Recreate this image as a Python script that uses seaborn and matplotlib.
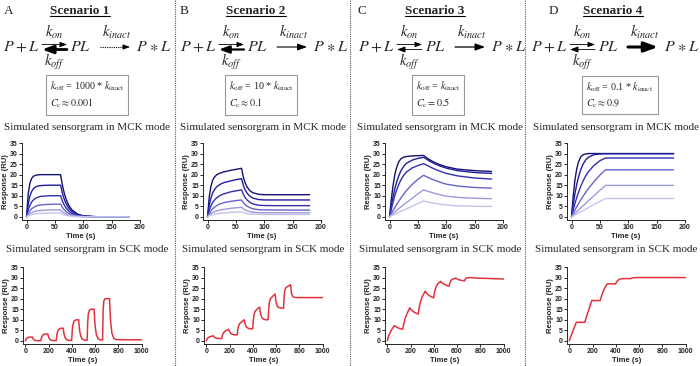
import matplotlib
matplotlib.use("Agg")
import matplotlib.pyplot as plt
import seaborn as sns
import pandas as pd

# ---- data ----
scenarios = ["Scenario 1", "Scenario 2", "Scenario 3", "Scenario 4"]
letters = ["A", "B", "C", "D"]
box_lines = [
    ["$k_{\\rm off}$ = 1000 * $k_{\\rm inact}$", "$C_{\\rm c} \\approx 0.001$"],
    ["$k_{\\rm off}$ = 10 * $k_{\\rm inact}$", "$C_{\\rm c} \\approx 0.1$"],
    ["$k_{\\rm off}$ = $k_{\\rm inact}$", "$C_{\\rm c} = 0.5$"],
    ["$k_{\\rm off}$ = 0.1 * $k_{\\rm inact}$", "$C_{\\rm c} \\approx 0.9$"],
]

mck_time = [0, 3, 6, 9, 12, 16, 20, 25, 30, 40, 50, 60, 63, 66, 70, 75, 80, 90, 100, 120, 150, 180]

# six concentrations, highest first
mck_s1 = [
    [0, 11.1, 16.0, 18.2, 19.2, 19.7, 19.9, 20.0, 20.0, 20.0, 20.0, 20.0, 15.3, 11.7, 8.1, 5.2, 3.3, 1.3, 0.5, 0.1, 0.0, 0.0],
    [0, 6.3, 9.9, 12.0, 13.3, 14.2, 14.6, 14.8, 14.9, 15.0, 15.0, 15.0, 11.4, 8.7, 6.1, 3.9, 2.5, 1.0, 0.4, 0.07, 0.0, 0.0],
    [0, 3.3, 5.6, 7.0, 8.0, 8.8, 9.3, 9.7, 9.8, 10.0, 10.0, 10.0, 7.6, 5.8, 4.1, 2.6, 1.65, 0.67, 0.27, 0.05, 0.0, 0.0],
    [0, 1.7, 2.9, 3.8, 4.4, 5.0, 5.4, 5.6, 5.8, 5.9, 6.0, 6.0, 4.6, 3.5, 2.4, 1.55, 1.0, 0.4, 0.16, 0.03, 0.0, 0.0],
    [0, 0.86, 1.5, 2.0, 2.3, 2.6, 2.9, 3.0, 3.1, 3.25, 3.3, 3.3, 2.5, 1.9, 1.3, 0.85, 0.54, 0.22, 0.09, 0.02, 0.0, 0.0],
    [0, 0.45, 0.79, 1.04, 1.23, 1.41, 1.54, 1.64, 1.7, 1.76, 1.79, 1.8, 1.37, 1.05, 0.73, 0.47, 0.3, 0.12, 0.05, 0.01, 0.0, 0.0],
]
mck_s2 = [
    [0, 9.5, 14.5, 17.3, 18.8, 19.9, 20.5, 21.0, 21.4, 22.0, 22.5, 23.0, 19.0, 16.3, 14.0, 12.3, 11.4, 10.7, 10.5, 10.5, 10.5, 10.5],
    [0, 5.5, 9.0, 11.3, 12.8, 14.2, 15.0, 15.8, 16.3, 17.0, 17.6, 18.1, 15.0, 12.9, 11.1, 9.7, 8.9, 8.2, 8.0, 8.0, 8.0, 8.0],
    [0, 3.0, 5.2, 6.8, 7.9, 9.0, 9.8, 10.5, 11.0, 11.8, 12.3, 12.8, 10.7, 9.2, 7.9, 6.8, 6.1, 5.5, 5.35, 5.3, 5.3, 5.3],
    [0, 1.6, 2.8, 3.8, 4.5, 5.3, 5.9, 6.4, 6.8, 7.3, 7.7, 8.0, 6.7, 5.8, 5.0, 4.3, 3.8, 3.4, 3.3, 3.25, 3.2, 3.2],
    [0, 0.85, 1.5, 2.0, 2.4, 2.8, 3.1, 3.4, 3.6, 4.0, 4.3, 4.5, 3.8, 3.3, 2.8, 2.45, 2.2, 2.0, 1.95, 1.9, 1.9, 1.9],
    [0, 0.45, 0.8, 1.05, 1.25, 1.45, 1.6, 1.75, 1.9, 2.1, 2.25, 2.4, 2.0, 1.75, 1.5, 1.35, 1.25, 1.15, 1.1, 1.1, 1.1, 1.1],
]
mck_s3 = [
    [0, 8.0, 14.5, 19.5, 23.0, 26.0, 27.5, 28.3, 28.6, 28.9, 29.0, 29.1, 28.5, 27.9, 27.2, 26.4, 25.7, 24.6, 23.7, 22.6, 21.9, 21.5],
    [0, 5.0, 9.3, 13.0, 16.0, 19.3, 21.8, 24.0, 25.4, 26.9, 27.7, 28.2, 27.7, 27.2, 26.5, 25.8, 25.1, 24.0, 23.1, 21.9, 21.0, 20.6],
    [0, 3.5, 6.8, 9.7, 12.3, 15.2, 17.5, 19.7, 21.3, 23.2, 24.3, 25.2, 24.8, 24.4, 23.9, 23.2, 22.6, 21.5, 20.6, 19.4, 18.4, 17.9],
    [0, 1.5, 2.9, 4.3, 5.6, 7.3, 8.9, 10.8, 12.5, 15.4, 17.8, 19.7, 19.3, 18.9, 18.4, 17.8, 17.3, 16.3, 15.5, 14.6, 13.9, 13.6],
    [0, 0.75, 1.5, 2.2, 2.9, 3.8, 4.7, 5.8, 6.8, 8.8, 10.9, 12.8, 12.5, 12.2, 11.9, 11.5, 11.1, 10.4, 9.8, 9.2, 8.8, 8.6],
    [0, 0.4, 0.8, 1.2, 1.6, 2.1, 2.6, 3.2, 3.8, 5.1, 6.3, 7.5, 7.3, 7.1, 6.9, 6.6, 6.4, 6.0, 5.6, 5.2, 5.0, 4.9],
]
mck_s4 = [
    [0, 10.0, 17.5, 22.5, 25.8, 28.3, 29.4, 29.8, 30.0, 30.0, 30.0, 30.0, 30.0, 30.0, 30.0, 30.0, 30.0, 30.0, 30.0, 30.0, 30.0, 30.0],
    [0, 6.0, 11.0, 15.2, 18.6, 22.2, 24.8, 27.0, 28.3, 29.5, 29.8, 29.9, 29.9, 29.9, 29.9, 29.9, 29.9, 29.9, 29.9, 29.9, 29.9, 29.9],
    [0, 3.3, 6.3, 9.0, 11.4, 14.3, 16.8, 19.4, 21.5, 24.5, 26.6, 27.9, 27.9, 27.9, 27.9, 27.9, 27.9, 27.9, 27.9, 27.9, 27.9, 27.9],
    [0, 1.6, 3.2, 4.7, 6.1, 7.9, 9.6, 11.6, 13.5, 16.8, 19.8, 22.3, 22.3, 22.3, 22.3, 22.3, 22.3, 22.3, 22.3, 22.3, 22.3, 22.3],
    [0, 0.8, 1.6, 2.4, 3.2, 4.2, 5.2, 6.4, 7.7, 10.1, 12.6, 14.9, 14.9, 14.9, 14.9, 14.9, 14.9, 14.9, 14.9, 14.9, 14.9, 14.9],
    [0, 0.45, 0.9, 1.35, 1.8, 2.4, 2.95, 3.7, 4.4, 5.9, 7.3, 8.7, 8.7, 8.7, 8.7, 8.7, 8.7, 8.7, 8.7, 8.7, 8.7, 8.7],
]

sck_time = [0, 5, 10, 20, 35, 60, 65, 70, 80, 95, 115,
            133, 138, 143, 153, 168, 193, 198, 203, 213, 228, 248,
            266, 271, 276, 286, 301, 326, 331, 336, 346, 361, 381,
            399, 404, 409, 419, 434, 459, 464, 469, 479, 494, 514,
            532, 537, 542, 552, 567, 592, 597, 602, 612, 627, 647,
            665, 670, 675, 685, 700, 725, 730, 735, 745, 760, 780,
            850, 1000]

sck_s1 = [0, 0.69, 1.11, 1.54, 1.74, 1.8, 1.15, 0.74, 0.31, 0.09, 0.03,
          0.03, 1.33, 2.1, 2.87, 3.2, 3.3, 2.18, 1.42, 0.62, 0.22, 0.09,
          0.09, 2.6, 4.05, 5.4, 5.9, 6.0, 3.98, 2.59, 1.14, 0.41, 0.18,
          0.18, 5.0, 7.45, 9.35, 9.9, 10.0, 6.6, 4.3, 1.9, 0.65, 0.3,
          0.3, 9.0, 12.6, 14.6, 15.0, 15.0, 9.9, 6.5, 2.8, 0.95, 0.42,
          0.42, 14.9, 18.7, 19.9, 20.0, 20.0, 13.2, 8.6, 3.75, 1.3, 0.6,
          0.5, 0.5]
sck_s2 = [0, 0.75, 1.2, 1.7, 2.0, 2.4, 2.0, 1.7, 1.35, 1.15, 1.1,
          1.1, 2.5, 3.3, 4.2, 4.8, 5.5, 4.7, 4.1, 3.4, 3.0, 2.85,
          2.85, 5.3, 6.7, 8.1, 8.9, 10.0, 8.6, 7.6, 6.5, 5.9, 5.7,
          5.7, 9.6, 11.9, 13.9, 14.9, 16.0, 13.9, 12.4, 10.9, 10.2, 10.0,
          10.0, 15.2, 18.0, 20.0, 20.9, 22.2, 19.6, 17.9, 16.3, 15.7, 15.5,
          15.5, 21.4, 23.8, 25.2, 25.8, 26.6, 23.7, 22.0, 20.9, 20.6, 20.5,
          20.5, 20.5]
sck_s3 = [0, 1.0, 1.9, 3.4, 5.1, 7.2, 7.0, 6.8, 6.5, 6.1, 5.7,
          5.5, 7.0, 8.3, 10.4, 12.7, 15.7, 15.3, 15.0, 14.4, 13.7, 13.1,
          12.7, 14.6, 16.2, 18.6, 21.0, 23.5, 23.1, 22.7, 22.1, 21.4, 20.8,
          20.4, 22.3, 23.7, 25.5, 27.0, 28.2, 27.9, 27.6, 27.2, 26.7, 26.2,
          25.9, 27.2, 28.0, 28.9, 29.4, 29.7, 29.5, 29.3, 29.0, 28.8, 28.6,
          28.4, 29.2, 29.6, 29.8, 29.9, 30.0, 29.9, 29.9, 29.8, 29.8, 29.7,
          29.6, 29.3]
sck_s4 = [0, 0.8, 1.6, 3.1, 5.3, 8.8, 8.8, 8.8, 8.8, 8.8, 8.8,
          8.8, 9.7, 10.6, 12.3, 14.8, 19.1, 19.1, 19.1, 19.1, 19.1, 19.1,
          19.1, 20.1, 21.0, 22.7, 24.7, 27.0, 27.0, 27.0, 27.0, 27.0, 27.0,
          27.0, 27.6, 28.1, 28.7, 29.2, 29.5, 29.5, 29.5, 29.5, 29.5, 29.5,
          29.5, 29.7, 29.8, 29.9, 29.95, 30.0, 30.0, 30.0, 30.0, 30.0, 30.0,
          30.0, 30.0, 30.0, 30.0, 30.0, 30.0, 30.0, 30.0, 30.0, 30.0, 30.0,
          30.0, 30.0]

mck_all = [mck_s1, mck_s2, mck_s3, mck_s4]
sck_all = [sck_s1, sck_s2, sck_s3, sck_s4]

# ---- style ----
mck_colors = ["#13136f", "#1e1e9e", "#2f2fb2", "#6565c9", "#9a9ade", "#c3c3ee"]
sck_color = "#e3323d"

sns.set_style("ticks")
plt.rcParams["font.family"] = ["Liberation Serif", "DejaVu Serif"]
plt.rcParams["mathtext.fontset"] = "stix"

W, H = 700, 366
fig = plt.figure(figsize=(7, 3.66), dpi=100)
over = fig.add_axes([0, 0, 1, 1])
over.set_xlim(0, W)
over.set_ylim(H, 0)
over.axis("off")

for xs in [174.5, 349.5, 524.5]:
    over.plot([xs, xs], [0, H], ls=(0, (1, 1)), color="0.35", lw=0.8)

letter_x = [4, 180, 357, 549]
title_cx = [80, 256, 435, 613]
eq_x0 = [3, 180, 358, 531]
box_cx = [87, 261, 438, 620]
sub_cx = [87, 263, 440, 616]
back_lw = [2.0, 1.6, 0.6, 0.6]
inact_lw = [0.6, 0.8, 0.9, 2.2]


def arrow(x_from, x_to, y, lw, scale=7):
    over.annotate("", xy=(x_to, y), xytext=(x_from, y),
                  arrowprops=dict(arrowstyle="-|>,head_length=0.6,head_width=0.22",
                                  lw=lw, color="k", shrinkA=0, shrinkB=0,
                                  mutation_scale=scale))


def eq_text(x, s, ha="left", size=11.5):
    over.text(x, 47, s, fontsize=size, ha=ha, va="center")


titles = []
for i in range(4):
    over.text(letter_x[i], 11, letters[i], fontsize=9.5, ha="left", va="center")
    titles.append(over.text(title_cx[i], 11, scenarios[i], fontsize=9.5,
                            fontweight="bold", ha="center", va="center"))
    x0 = eq_x0[i]
    eq_text(x0, r"$P$")
    eq_text(x0 + 18.5, r"$+$", ha="center")
    eq_text(x0 + 25, r"$L$")
    eq_text(x0 + 67, r"$PL$")
    eq_text(x0 + 133, r"$P$")
    eq_text(x0 + 150.5, r"$\ast$", ha="center")
    eq_text(x0 + 157, r"$L$")
    over.text(x0 + 51, 32, r"$k_{on}$", fontsize=10.5, ha="center", va="center")
    over.text(x0 + 51, 62, r"$k_{off}$", fontsize=10.5, ha="center", va="center")
    over.text(x0 + 114, 32, r"$k_{inact}$", fontsize=10.5, ha="center", va="center")
    arrow(x0 + 39, x0 + 64, 44.5, 0.6)
    arrow(x0 + 64, x0 + 39, 49.5, back_lw[i], 7 + back_lw[i] * 2)
    if i == 0:
        over.plot([x0 + 97, x0 + 121], [47, 47], ls=(0, (1, 1)), lw=0.8, color="k")
        arrow(x0 + 120, x0 + 127, 47, 0.6)
    else:
        arrow(x0 + 97, x0 + 127, 47, inact_lw[i], 7 + inact_lw[i] * 3)
    over.text(box_cx[i], 95, "\n".join(box_lines[i]), fontsize=7.3, ha="center",
              va="center", multialignment="left", linespacing=1.4,
              bbox=dict(boxstyle="square,pad=0.4", fc="white", ec="0.6", lw=0.8))
    over.text(sub_cx[i], 127, "Simulated sensorgram in MCK mode", fontsize=8,
              ha="center", va="center")
    over.text(sub_cx[i], 250, "Simulated sensorgram in SCK mode", fontsize=8,
              ha="center", va="center")


def px_axes(left, top, width, height):
    return fig.add_axes([left / W, 1 - (top + height) / H, width / W, height / H])


def style_axes(ax, xlim, xticks):
    ax.set_xlim(*xlim)
    ax.set_ylim(-1.5, 35)
    ax.set_xticks(xticks)
    ax.set_yticks(range(0, 36, 5))
    sns.despine(ax=ax)
    for sp in ax.spines.values():
        sp.set_linewidth(0.7)
    ax.tick_params(length=2, width=0.7, pad=1, labelsize=5)
    for lbl in ax.get_xticklabels() + ax.get_yticklabels():
        lbl.set_fontfamily("Liberation Sans")
        lbl.set_fontweight("bold")
    ax.set_xlabel("Time (s)", fontsize=5.5, fontweight="bold",
                  family="Liberation Sans", labelpad=1)
    ax.set_ylabel("Response (RU)", fontsize=5.5, fontweight="bold",
                  family="Liberation Sans", labelpad=1)


mck_left = [22, 203, 385, 567]
sck_left = [23, 204, 385, 567]

for i in range(4):
    frames = []
    for j, vals in enumerate(mck_all[i]):
        frames.append(pd.DataFrame({"time": mck_time, "response": vals,
                                    "curve": f"c{j + 1}"}))
    df = pd.concat(frames, ignore_index=True)
    ax = px_axes(mck_left[i], 143, 118, 77)
    sns.lineplot(data=df, x="time", y="response", hue="curve",
                 palette=mck_colors, legend=False, estimator=None,
                 sort=False, lw=1.0, ax=ax)
    style_axes(ax, (-8, 200), [0, 50, 100, 150, 200])

    sdf = pd.DataFrame({"time": sck_time, "response": sck_all[i]})
    ax2 = px_axes(sck_left[i], 267, 118.5, 77)
    sns.lineplot(data=sdf, x="time", y="response", color=sck_color,
                 estimator=None, sort=False, lw=1.1, ax=ax2)
    style_axes(ax2, (-20, 1000), [0, 200, 400, 600, 800, 1000])

# underline the scenario titles
fig.canvas.draw()
inv = over.transData.inverted()
for t in titles:
    bb = t.get_window_extent()
    (ax0, ay0), (ax1, ay1) = inv.transform([[bb.x0, bb.y0], [bb.x1, bb.y1]])
    over.plot([ax0, ax1], [max(ay0, ay1) - 1.2] * 2, color="k", lw=0.8)

fig.savefig("out.png", dpi=100)
